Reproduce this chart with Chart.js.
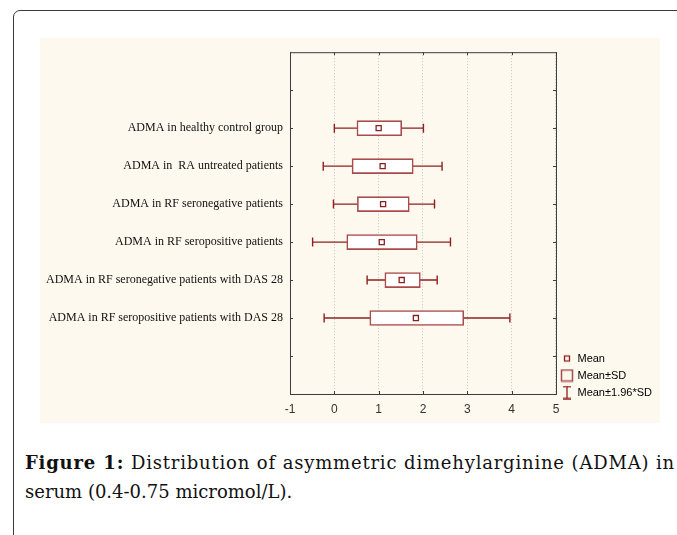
<!DOCTYPE html>
<html>
<head>
<meta charset="utf-8">
<script src="https://cdn.jsdelivr.net/npm/chart.js@4.4.1/dist/chart.umd.min.js"></script>
<style>
  html, body { margin: 0; padding: 0; background: #fff; overflow: hidden; }
  body { width: 677px; height: 535px; position: relative; }
  #frame {
    position: absolute; left: 13px; top: 10px; width: 720px; height: 600px;
    border: 1.5px solid #3a3a3a; border-radius: 7px;
  }
  #panel {
    position: absolute; left: 40px; top: 38px; width: 620px; height: 385px;
    background: #fef9ee;
  }
  #caption {
    position: absolute; left: 25px; top: 448px; width: 650px;
    font-family: "DejaVu Serif", serif; font-size: 18px; line-height: 29px; color: #111;
    text-align: justify;
  }
  #caption::first-line { letter-spacing: 0.8px; }
  #caption b { font-weight: bold; }
</style>
</head>
<body>
<div id="frame"></div>
<div id="panel"><canvas id="chart" width="620" height="385"></canvas></div>
<div id="caption"><b>Figure 1:</b> Distribution of asymmetric dimehylarginine (ADMA) in serum (0.4-0.75 micromol/L).</div>
<script>
// groups, top to bottom
const groups = [
    "ADMA in healthy control group",
    "ADMA in  RA untreated patients",
    "ADMA in RF seronegative patients",
    "ADMA in RF seropositive patients",
    "ADMA in RF seronegative patients with DAS 28",
    "ADMA in RF seropositive patients with DAS 28"
];
const means  = [1.00, 1.09, 1.10, 1.07, 1.52, 1.84];
const sdLow  = [0.51, 0.40, 0.52, 0.28, 1.14, 0.80];
const sdHigh = [1.52, 1.78, 1.69, 1.87, 1.94, 2.92];
const ciLow  = [0.00, -0.25, -0.02, -0.49, 0.74, -0.23];
const ciHigh = [2.01, 2.43, 2.26, 2.62, 2.32, 3.96];
const xTicks = [-1, 0, 1, 2, 3, 4, 5];
const legendLabels = ["Mean", "Mean±SD", "Mean±1.96*SD"];

const dark = "#8e1f1f";
const boxColor = "#a94b4b";

// row position on the y scale (slot 0 and 9 are the frame edges)
const rowPos = i => i + 2;

// small canvases for the legend icons
function icon(draw) {
    const c = document.createElement("canvas");
    c.width = 14; c.height = 14;
    const g = c.getContext("2d");
    draw(g);
    return c;
}
const meanIcon = icon(g => {
    g.strokeStyle = dark; g.lineWidth = 1.3;
    g.strokeRect(4.5, 4.5, 5, 5);
});
const sdIcon = icon(g => {
    g.strokeStyle = boxColor; g.lineWidth = 1.5;
    g.strokeRect(1.5, 1.5, 11, 11);
});
const ciIcon = icon(g => {
    g.strokeStyle = dark; g.lineWidth = 1.3;
    g.beginPath();
    g.moveTo(3, 1); g.lineTo(11, 1);
    g.moveTo(7, 1); g.lineTo(7, 13);
    g.moveTo(3, 13); g.lineTo(11, 13);
    g.stroke();
});
const legendIcons = [meanIcon, sdIcon, ciIcon];

const whiskerSets = ciLow.map((lo, i) => ({
    type: 'scatter',
    showLine: true,
    data: [{ x: lo, y: rowPos(i) }, { x: ciHigh[i], y: rowPos(i) }],
    borderColor: dark,
    borderWidth: 1.4,
    pointStyle: 'line',
    pointRotation: 90,
    pointRadius: 4.5,
    pointBorderWidth: 1.4,
    pointBorderColor: dark,
    order: 3
}));

const boxSet = {
    type: 'bar',
    indexAxis: 'y',
    data: sdLow.map((lo, i) => ({ x: [lo, sdHigh[i]], y: rowPos(i) })),
    backgroundColor: "#ffffff",
    borderColor: boxColor,
    borderWidth: 1.6,
    borderSkipped: false,
    barThickness: 15,
    order: 2
};

const meanSet = {
    type: 'scatter',
    data: means.map((m, i) => ({ x: m, y: rowPos(i) })),
    pointStyle: 'rect',
    pointRadius: 3.6,
    backgroundColor: "#ffffff",
    borderColor: dark,
    borderWidth: 1.3,
    order: 1
};

// frame round the plot with inward ticks
const framePlugin = {
    id: 'frame',
    afterLayout(chart) {
        // legend sits a little lower, level with the bottom of the plot
        const lg = chart.legend;
        if (lg) { lg.top += 10; lg.bottom += 10; }
    },
    afterDraw(chart) {
        const { ctx, chartArea: a, scales } = chart;
        ctx.save();
        ctx.strokeStyle = "#3c3c3c";
        ctx.lineWidth = 1;
        ctx.strokeRect(a.left + 0.5, a.top + 0.5, a.right - a.left, a.bottom - a.top);
        ctx.beginPath();
        xTicks.forEach(v => {
            const px = Math.round(scales.x.getPixelForValue(v)) + 0.5;
            ctx.moveTo(px, a.top); ctx.lineTo(px, a.top + 3);
            ctx.moveTo(px, a.bottom); ctx.lineTo(px, a.bottom - 3);
        });
        for (let v = 1; v <= 8; v++) {
            const py = Math.round(scales.y.getPixelForValue(v)) + 0.5;
            ctx.moveTo(a.left, py); ctx.lineTo(a.left + 3, py);
            ctx.moveTo(a.right, py); ctx.lineTo(a.right - 3, py);
        }
        ctx.stroke();
        ctx.restore();
    }
};

new Chart(document.getElementById("chart"), {
    type: 'bar',
    data: { datasets: [meanSet, boxSet, ...whiskerSets] },
    options: {
        responsive: false,
        animation: false,
        events: [],
        devicePixelRatio: 1,
        layout: { padding: { top: 11, left: 0, right: -2, bottom: 0 } },
        plugins: {
            tooltip: { enabled: false },
            legend: {
                position: 'right',
                align: 'end',
                fullSize: false,
                labels: {
                    usePointStyle: true,
                    pointStyleWidth: 10,
                    boxWidth: 12,
                    padding: 6,
                    color: "#1e2a44",
                    font: { family: "Arial, 'Liberation Sans', sans-serif", size: 11 },
                    generateLabels: () => legendLabels.map((t, i) => ({
                        text: t,
                        pointStyle: legendIcons[i],
                        fillStyle: "#fff",
                        strokeStyle: dark,
                        lineWidth: 0,
                        hidden: false,
                        datasetIndex: i
                    }))
                }
            }
        },
        scales: {
            x: {
                type: 'linear',
                min: -1,
                max: 5,
                offset: false,
                afterBuildTicks: s => { s.ticks = xTicks.map(v => ({ value: v })); },
                afterFit: s => { s.height = 29; },
                grid: { color: "#c4c4c4", lineWidth: 1, drawTicks: false, offset: false },
                border: { display: false, dash: [1, 2] },
                ticks: {
                    padding: 8,
                    color: "#333",
                    font: { family: "Arial, 'Liberation Sans', sans-serif", size: 12 }
                }
            },
            y: {
                type: 'linear',
                min: 0,
                max: 9,
                reverse: true,
                offset: false,
                afterBuildTicks: s => {
                    s.ticks = [1, 2, 3, 4, 5, 6, 7, 8].map(v => ({ value: v }));
                },
                afterFit: s => { s.width = 250; },
                grid: { display: false, drawTicks: false, offset: false },
                border: { display: false },
                ticks: {
                    padding: 7,
                    color: "#111",
                    font: { family: "'Liberation Serif', 'Times New Roman', serif", size: 12 },
                    callback: v => groups[v - 2] || ""
                }
            }
        }
    },
    plugins: [framePlugin]
});
</script>
</body>
</html>
